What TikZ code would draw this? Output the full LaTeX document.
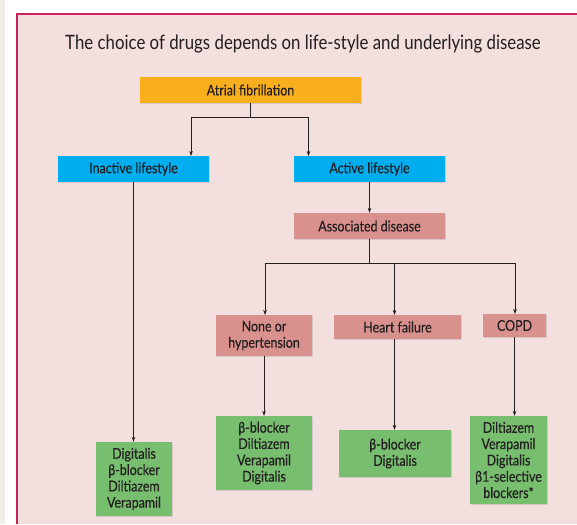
\documentclass[tikz,border=0pt]{standalone}
\usepackage{fontspec}
\setmainfont{Lato}[FakeStretch=0.85]
\newfontfamily\boxfont{Lato}[FakeStretch=0.84, FakeBold=0.35]
\usetikzlibrary{shadows,arrows.meta}
\definecolor{bgpink}{HTML}{F4DFDF}
\definecolor{framec}{HTML}{C8235A}
\definecolor{aforange}{HTML}{F9AE1D}
\definecolor{cyanbox}{HTML}{00AEEF}
\definecolor{salmonbox}{HTML}{D9918D}
\definecolor{greenbox}{HTML}{77BE6E}
\definecolor{txtc}{HTML}{231F20}
\definecolor{stripc}{HTML}{EFEFE7}
\tikzset{
  boxnode/.style={rectangle, inner sep=0pt, align=center, text=txtc,
    font=\boxfont\fontsize{14.8}{16.3}\selectfont,
    drop shadow={shadow xshift=0.8pt, shadow yshift=-0.8pt, opacity=0.25}},
  conn/.style={draw=txtc, line width=0.9pt},
  arr/.style={conn, -{Stealth[length=5pt,width=3.6pt]}}
}
\begin{document}
\begin{tikzpicture}[x=1pt,y=-1pt]
\useasboundingbox (0,0) rectangle (577,524);
\fill[white] (0,0) rectangle (577,524);
\fill[stripc] (0,0) rectangle (5,524);
\fill[bgpink] (17,14) rectangle (577,524);
\draw[framec, line width=1.3pt] (17,524) -- (17,14) -- (577,14);

\node[anchor=base, text=txtc, font=\fontsize{19.8}{22}\selectfont] (title) at (303,49.5)
  {The choice of drugs depends on life-style and underlying disease};

\node[boxnode, fill=aforange, minimum width=221pt, minimum height=26pt] (af) at (250.5,90) {Atrial fibrillation};
\node[boxnode, fill=cyanbox, minimum width=151pt, minimum height=26pt] (inact) at (133.5,169) {Inactive lifestyle};
\node[boxnode, fill=cyanbox, minimum width=151pt, minimum height=26pt] (act) at (369.5,169) {Active lifestyle};
\node[boxnode, fill=salmonbox, minimum width=151pt, minimum height=26pt] (assoc) at (369.5,226) {Associated disease};
\node[boxnode, fill=salmonbox, minimum width=96pt, minimum height=41pt] (none) at (264,335.5) {None or\\hypertension};
\node[boxnode, fill=salmonbox, minimum width=127pt, minimum height=24pt] (hf) at (397.5,327) {Heart failure};
\node[boxnode, fill=salmonbox, minimum width=63pt, minimum height=23pt] (copd) at (514.5,325.5) {COPD};
\node[boxnode, fill=greenbox, minimum width=76pt, minimum height=74pt] (r1) at (134,479) {Digitalis\\β-blocker\\Diltiazem\\Verapamil};
\node[boxnode, fill=greenbox, minimum width=96pt, minimum height=74pt] (r2) at (264,453) {β-blocker\\Diltiazem\\Verapamil\\Digitalis};
\node[boxnode, fill=greenbox, minimum width=112pt, minimum height=47pt] (r3) at (395,453.5) {β-blocker\\Digitalis};
\node[boxnode, fill=greenbox, minimum width=77pt, minimum height=88pt] (r4) at (508.5,460) {Diltiazem\\Verapamil\\Digitalis\\β1-selective\\blockers*};

\coordinate (j1) at (250.5,117);
\coordinate (t1) at (191,156);
\coordinate (t2) at (308.5,156);
\draw[conn] (af.south) -- (j1);
\draw[arr] (j1) -| (t1);
\draw[arr] (j1) -| (t2);

\draw[arr] (inact.south) -- (inact.south |- r1.north);
\draw[arr] (act.south) -- (assoc.north);

\coordinate (j2) at (369.5,263);
\coordinate (t3) at (265,315);
\coordinate (t4) at (394.5,315);
\coordinate (t5) at (515,314);
\draw[conn] (assoc.south) -- (j2);
\draw[arr] (j2) -| (t3);
\draw[arr] (j2) -| (t4);
\draw[arr] (j2) -| (t5);

\coordinate (s4) at (394.5,339);
\coordinate (s5) at (514.5,337);
\draw[arr] (none.south) -- (none.south |- r2.north);
\draw[arr] (s4) -- (s4 |- r3.north);
\draw[arr] (s5) -- (s5 |- r4.north);
\end{tikzpicture}
\end{document}
